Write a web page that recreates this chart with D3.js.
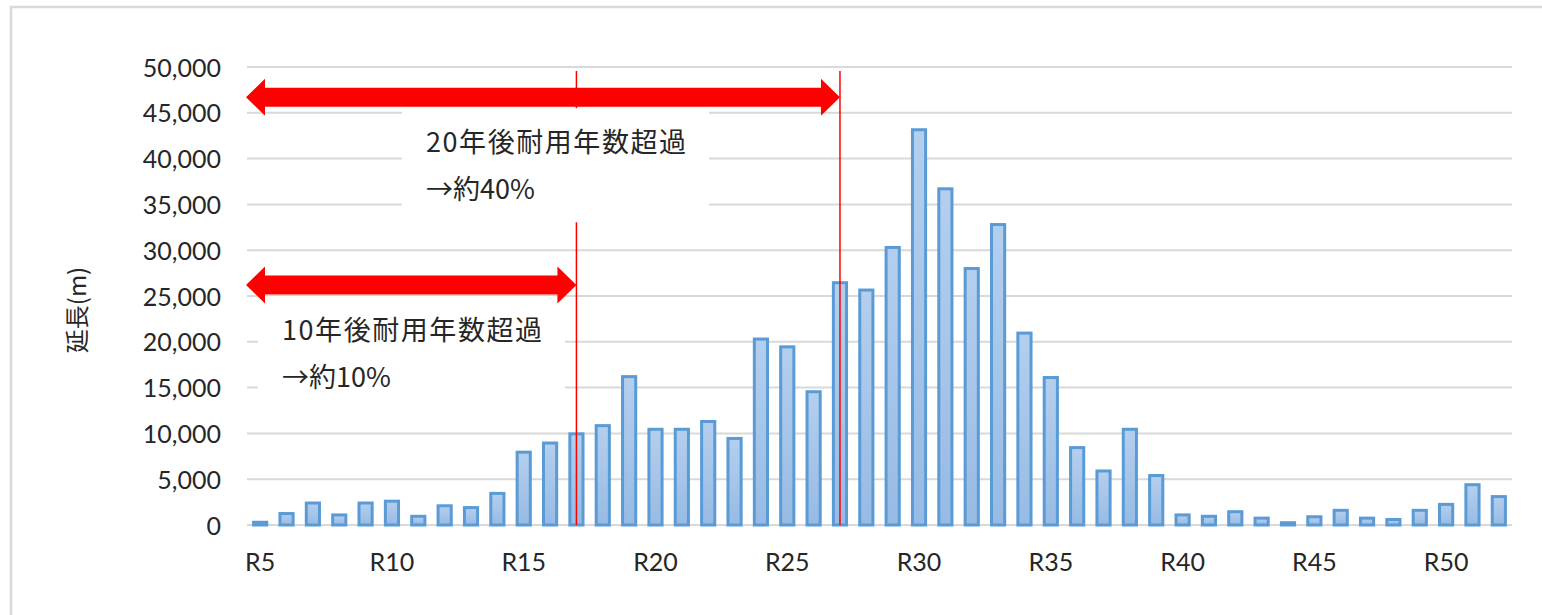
<!DOCTYPE html>
<html>
<head>
<meta charset="utf-8">
<script src="https://cdn.jsdelivr.net/npm/d3@7"></script>
<style>
  html, body { margin: 0; padding: 0; background: #ffffff; }
  svg { display: block; }
  .tick text { font-family: Lato, "Open Sans", sans-serif; fill: #262626; }
  .note { font-family: "Noto Sans CJK JP", sans-serif; fill: #262626; }
</style>
</head>
<body>
<svg id="chart" width="1542" height="615"></svg>
<script>
// Pipe length (m) by installation year
const years = ["R5","R6","R7","R8","R9","R10","R11","R12","R13","R14","R15","R16",
  "R17","R18","R19","R20","R21","R22","R23","R24","R25","R26","R27","R28",
  "R29","R30","R31","R32","R33","R34","R35","R36","R37","R38","R39","R40",
  "R41","R42","R43","R44","R45","R46","R47","R48","R49","R50","R51","R52"];
const lengths = [300,1250,2400,1100,2400,2600,950,2100,1900,3450,7950,8950,
  9950,10850,16200,10450,10450,11300,9450,20300,19450,14550,26450,25650,
  30300,43150,36700,28000,32800,20950,16100,8450,5900,10450,5400,1100,
  950,1450,750,250,900,1600,750,600,1600,2250,4400,3100];
const yTicks = [0,5000,10000,15000,20000,25000,30000,35000,40000,45000,50000];
const xTickLabels = ["R5","R10","R15","R20","R25","R30","R35","R40","R45","R50"];
const yTitle = "延長(m)";

// Service-life horizons: arrow runs from the first year up to the cut-off year
const horizonYears = ["R27", "R17"];
const horizonArrowLevels = [46700, 26200];
const horizonLines1 = ["20年後耐用年数超過", "10年後耐用年数超過"];
const horizonLines2 = ["→約40%", "→約10%"];

const svg = d3.select("#chart");
const margin = { left: 247, right: 30, top: 67, bottom: 90 };
const W = 1542, H = 615;
const x0 = margin.left, x1 = W - margin.right;
const yTop = margin.top, yBot = H - margin.bottom;

// outer chart frame
svg.append("rect")
  .attr("x", 11).attr("y", 7).attr("width", W + 20).attr("height", H + 20)
  .attr("fill", "none").attr("stroke", "#d9d9d9").attr("stroke-width", 2.5);

const x = d3.scaleBand().domain(years).range([x0, x1])
  .paddingInner(0.5).paddingOuter(0.25);
const y = d3.scaleLinear().domain([0, 50000]).range([yBot, yTop]);

// gradient fill for bars
const defs = svg.append("defs");
const grad = defs.append("linearGradient").attr("id", "barFill")
  .attr("x1", 0).attr("y1", 0).attr("x2", 0).attr("y2", 1);
grad.append("stop").attr("offset", "0%").attr("stop-color", "#b4cfee");
grad.append("stop").attr("offset", "100%").attr("stop-color", "#97bbe4");

// horizontal gridlines
svg.append("g").selectAll("line").data(yTicks).join("line")
  .attr("x1", x0).attr("x2", x1)
  .attr("y1", d => y(d)).attr("y2", d => y(d))
  .attr("stroke", "#d9d9d9").attr("stroke-width", 2);

// y axis labels
const yAxis = d3.axisLeft(y).tickValues(yTicks).tickFormat(d3.format(",")).tickSize(0).tickPadding(26);
const gy = svg.append("g").attr("transform", `translate(${x0},0)`).call(yAxis);
gy.select(".domain").remove();
gy.selectAll(".tick text").attr("font-size", 25).attr("dy", "0.36em");

// x axis labels (every fifth year)
const xAxis = d3.axisBottom(x).tickValues(xTickLabels).tickSize(0).tickPadding(31);
const gx = svg.append("g").attr("transform", `translate(0,${yBot})`).call(xAxis);
gx.select(".domain").remove();
gx.selectAll(".tick text").attr("font-size", 25).attr("dy", "0.6em");

// bars
svg.append("g").selectAll("rect").data(lengths).join("rect")
  .attr("x", (d, i) => x(years[i]))
  .attr("width", x.bandwidth())
  .attr("y", d => y(d))
  .attr("height", d => y(0) - y(d))
  .attr("fill", "url(#barFill)")
  .attr("stroke", "#5b9bd5").attr("stroke-width", 3);

// y axis title
svg.append("text").attr("class", "note")
  .attr("transform", `translate(75,${(yTop + yBot) / 2 + 14}) rotate(-90)`)
  .attr("text-anchor", "middle").attr("dominant-baseline", "central")
  .attr("font-size", 24).text(yTitle);

// cut-off year markers
const cx = yr => x(yr) + x.bandwidth() / 2;
svg.append("g").selectAll("line").data(horizonYears).join("line")
  .attr("x1", d => cx(d)).attr("x2", d => cx(d))
  .attr("y1", y(50000) + 4).attr("y2", yBot)
  .attr("stroke", "#ff0000").attr("stroke-width", 1.5);

// annotation text boxes (white background hides the gridlines behind)
const boxW = 307, boxH = 114;
horizonYears.forEach((yr, i) => {
  const ay = y(horizonArrowLevels[i]);
  const bx = i === 0 ? x0 + 155 : x0 + 11;
  const by = ay + 11;
  svg.append("rect").attr("x", bx).attr("y", by).attr("width", boxW).attr("height", boxH)
    .attr("fill", "#ffffff");
  svg.append("text").attr("class", "note").attr("x", bx + 24).attr("y", by + 32)
    .attr("dominant-baseline", "central").attr("font-size", 27)
    .attr("textLength", 260).attr("lengthAdjust", "spacing")
    .text(horizonLines1[i]);
  svg.append("text").attr("class", "note").attr("x", bx + 24).attr("y", by + 79)
    .attr("dominant-baseline", "central").attr("font-size", 27)
    .text(horizonLines2[i]);
});

// double-headed arrows
const headL = 19, headH = 18.5, shaftH = 9.5;
horizonYears.forEach((yr, i) => {
  const ay = y(horizonArrowLevels[i]);
  const xl = x0 - 1, xr = cx(yr);
  const pts = [
    [xl, ay], [xl + headL, ay - headH], [xl + headL, ay - shaftH],
    [xr - headL, ay - shaftH], [xr - headL, ay - headH], [xr, ay],
    [xr - headL, ay + headH], [xr - headL, ay + shaftH],
    [xl + headL, ay + shaftH], [xl + headL, ay + headH]
  ];
  svg.append("path").attr("d", d3.line()(pts) + "Z").attr("fill", "#ff0000");
});
</script>
</body>
</html>
